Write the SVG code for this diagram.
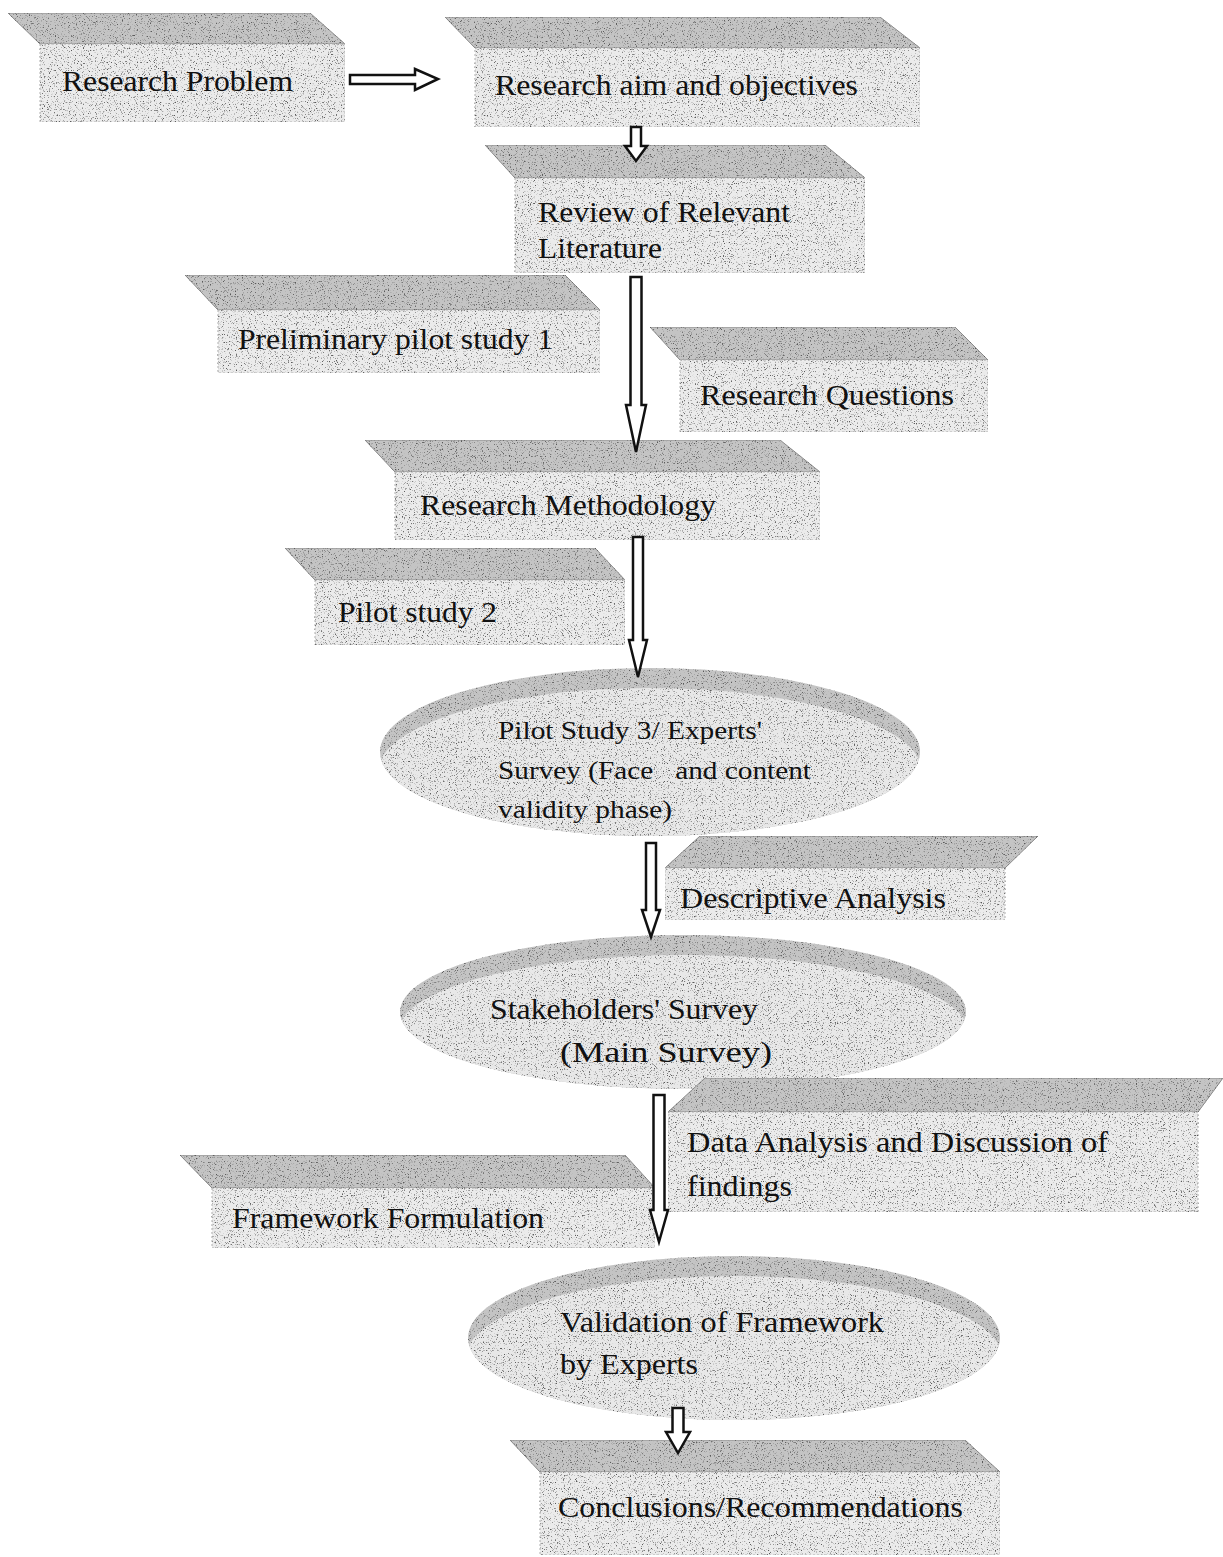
<svg xmlns="http://www.w3.org/2000/svg" width="1223" height="1557" viewBox="0 0 1223 1557">
<style>
.band{fill:#c4c4c4;stroke:#8a8a8a;stroke-width:1}
.face{fill:#ebebeb;stroke:#b0b0b0;stroke-width:1;stroke-dasharray:2 2}
.ell{fill:#e8e8e8}
.elltop{fill:#c4c4c4}
.t{font-family:'Liberation Serif','Times New Roman',Times,serif;font-size:30px;fill:#111}
.ts{font-family:'Liberation Serif','Times New Roman',Times,serif;font-size:26px;fill:#111}
.arr{fill:#fff;stroke:#111;stroke-width:2.5;stroke-linejoin:miter}
.sh{filter:url(#grain)}
</style>
<defs>
<filter id="grain" x="0" y="0" width="100%" height="100%" color-interpolation-filters="sRGB">
<feTurbulence type="fractalNoise" baseFrequency="0.85" numOctaves="2" seed="7" result="n"/>
<feColorMatrix in="n" type="matrix" values="0 0 0 0 0.35  0 0 0 0 0.35  0 0 0 0 0.35  5 0 0 0 -2.9" result="dots"/>
<feComposite in="dots" in2="SourceGraphic" operator="in" result="d2"/>
<feMerge><feMergeNode in="SourceGraphic"/><feMergeNode in="d2"/></feMerge>
</filter>
<clipPath id="c1"><ellipse cx="650" cy="752" rx="270" ry="84"/></clipPath>
<clipPath id="c2"><ellipse cx="683" cy="1012" rx="283" ry="77"/></clipPath>
<clipPath id="c3"><ellipse cx="734" cy="1338" rx="266" ry="82"/></clipPath>
</defs>
<rect width="1223" height="1557" fill="#fff"/>

<g id="n-research-problem">
<g class="sh"><polygon class="band" points="8,13 310,13 345,44 40,44"/>
<rect class="face" x="40" y="44" width="305" height="78"/></g>
<text class="t" x="62" y="91" textLength="231" lengthAdjust="spacingAndGlyphs">Research Problem</text>
</g>

<g id="n-research-aim">
<g class="sh"><polygon class="band" points="445,17 880,17 920,48 475,48"/>
<rect class="face" x="475" y="48" width="445" height="79"/></g>
<text class="t" x="495" y="95" textLength="363" lengthAdjust="spacingAndGlyphs">Research aim and objectives</text>
</g>

<g id="n-literature">
<g class="sh"><polygon class="band" points="485,145 825,145 865,178 515,178"/>
<rect class="face" x="515" y="178" width="350" height="95"/></g>
<text class="t" x="538" y="222" textLength="252" lengthAdjust="spacingAndGlyphs">Review of Relevant</text>
<text class="t" x="538" y="258" textLength="124" lengthAdjust="spacingAndGlyphs">Literature</text>
</g>

<g id="n-pilot1">
<g class="sh"><polygon class="band" points="185,275 565,275 600,310 218,310"/>
<rect class="face" x="218" y="310" width="382" height="63"/></g>
<text class="t" x="238" y="349" textLength="315" lengthAdjust="spacingAndGlyphs">Preliminary pilot study 1</text>
</g>

<g id="n-questions">
<g class="sh"><polygon class="band" points="650,327 955,327 988,360 680,360"/>
<rect class="face" x="680" y="360" width="308" height="72"/></g>
<text class="t" x="700" y="405" textLength="254" lengthAdjust="spacingAndGlyphs">Research Questions</text>
</g>

<g id="n-methodology">
<g class="sh"><polygon class="band" points="365,440 780,440 820,472 395,472"/>
<rect class="face" x="395" y="472" width="425" height="68"/></g>
<text class="t" x="420" y="515" textLength="296" lengthAdjust="spacingAndGlyphs">Research Methodology</text>
</g>

<g id="n-pilot2">
<g class="sh"><polygon class="band" points="285,548 595,548 625,580 315,580"/>
<rect class="face" x="315" y="580" width="310" height="65"/></g>
<text class="t" x="338" y="622" textLength="159" lengthAdjust="spacingAndGlyphs">Pilot study 2</text>
</g>

<g id="n-pilot3">
<g class="sh"><ellipse class="elltop" cx="650" cy="752" rx="270" ry="84"/>
<ellipse class="ell" cx="650" cy="772" rx="272" ry="84" clip-path="url(#c1)"/></g>
<text class="ts" x="498" y="739" textLength="264" lengthAdjust="spacingAndGlyphs">Pilot Study 3/ Experts'</text>
<text class="ts" x="498" y="779" textLength="313" lengthAdjust="spacingAndGlyphs" xml:space="preserve">Survey (Face   and content</text>
<text class="ts" x="498" y="818" textLength="174" lengthAdjust="spacingAndGlyphs">validity phase)</text>
</g>

<g id="n-descriptive">
<g class="sh"><polygon class="band" points="700,836 1038,836 1005,868 665,868"/>
<rect class="face" x="665" y="868" width="340" height="52"/></g>
<text class="t" x="680" y="908" textLength="266" lengthAdjust="spacingAndGlyphs">Descriptive Analysis</text>
</g>

<g id="n-stakeholders">
<g class="sh"><ellipse class="elltop" cx="683" cy="1012" rx="283" ry="77"/>
<ellipse class="ell" cx="683" cy="1032" rx="285" ry="77" clip-path="url(#c2)"/></g>
<text class="t" x="490" y="1019" textLength="268" lengthAdjust="spacingAndGlyphs">Stakeholders' Survey</text>
<text class="t" x="560" y="1062" textLength="212" lengthAdjust="spacingAndGlyphs">(Main Survey)</text>
</g>

<g id="n-data-analysis">
<g class="sh"><polygon class="band" points="705,1078 1223,1078 1198,1112 668,1112"/>
<rect class="face" x="668" y="1112" width="530" height="100"/></g>
<text class="t" x="687" y="1152" textLength="421" lengthAdjust="spacingAndGlyphs">Data Analysis and Discussion of</text>
<text class="t" x="687" y="1196" textLength="105" lengthAdjust="spacingAndGlyphs">findings</text>
</g>

<g id="n-framework">
<g class="sh"><polygon class="band" points="180,1155 625,1155 655,1188 212,1188"/>
<rect class="face" x="212" y="1188" width="443" height="60"/></g>
<text class="t" x="232" y="1228" textLength="312" lengthAdjust="spacingAndGlyphs">Framework Formulation</text>
</g>

<g id="n-validation">
<g class="sh"><ellipse class="elltop" cx="734" cy="1338" rx="266" ry="82"/>
<ellipse class="ell" cx="734" cy="1358" rx="268" ry="82" clip-path="url(#c3)"/></g>
<text class="t" x="560" y="1332" textLength="324" lengthAdjust="spacingAndGlyphs">Validation of Framework</text>
<text class="t" x="560" y="1374" textLength="138" lengthAdjust="spacingAndGlyphs">by Experts</text>
</g>

<g id="n-conclusions">
<g class="sh"><polygon class="band" points="510,1440 965,1440 1000,1472 540,1472"/>
<rect class="face" x="540" y="1472" width="460" height="83"/></g>
<text class="t" x="558" y="1517" textLength="405" lengthAdjust="spacingAndGlyphs">Conclusions/Recommendations</text>
</g>

<g id="connectors">
<polygon class="arr" points="350,75 415,75 415,69 438,79 415,90 415,84 350,84"/>
<polygon class="arr" points="631,127 641,127 641,146 647,146 636,161 625,146 631,146"/>
<polygon class="arr" points="630.5,277 641.5,277 641.5,405 646,405 636,452 626,405 630.5,405"/>
<polygon class="arr" points="633,537 643,537 643,640 647,640 638,677 629,640 633,640"/>
<polygon class="arr" points="646,843 656,843 656,910 660,910 651,937 642,910 646,910"/>
<polygon class="arr" points="653.5,1095 664.5,1095 664.5,1210 668,1210 659,1242 650,1210 653.5,1210"/>
<polygon class="arr" points="672.5,1408 683.5,1408 683.5,1432 690,1432 678,1453 666,1432 672.5,1432"/>
</g>
</svg>
